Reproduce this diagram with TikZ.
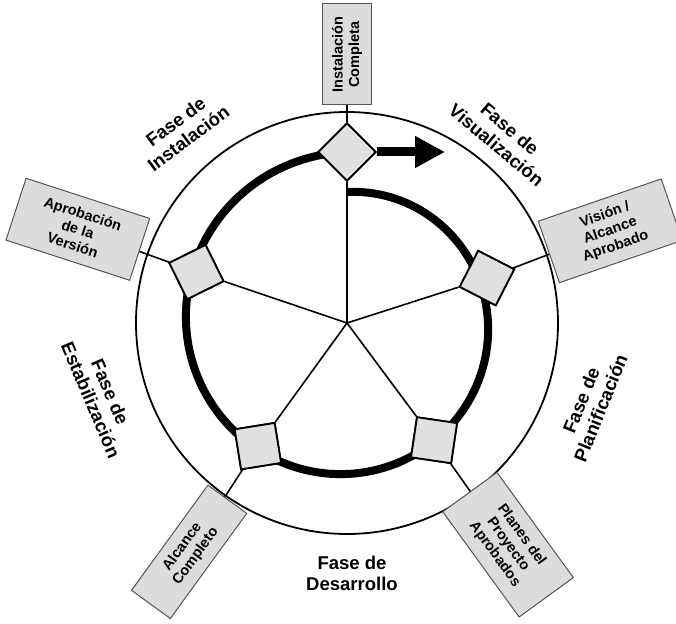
\documentclass[tikz,border=0pt]{standalone}
\usepackage{fontspec}
\setmainfont{Liberation Sans}
\usetikzlibrary{shapes.geometric,arrows.meta}
\definecolor{msfill}{HTML}{E0E0E0}
\definecolor{notefill}{HTML}{DCDCDC}
\definecolor{notedraw}{HTML}{555555}
\begin{document}
\begin{tikzpicture}[x=1pt,y=1pt,
  spoke/.style={line width=1.6pt},
  milestone/.style={shape=diamond, draw, line width=1.8pt, fill=msfill,
    minimum width=58pt, minimum height=58pt, inner sep=0pt, aspect=1},
  note/.style={draw=notedraw, line width=1pt, fill=notefill, align=center,
    minimum width=130pt, minimum height=65pt, inner sep=2pt,
    font=\bfseries\fontsize{14.5}{16.5}\selectfont},
  phase/.style={align=center, font=\bfseries\fontsize{18.5}{21}\selectfont}
]
\useasboundingbox (-347,-300) rectangle (329,323);

% hub and outer ring
\coordinate (c) at (0,0);
\draw[line width=1.8pt] (c) circle (211);

% milestones on the five spokes
\path (90:171)      node[milestone, rotate=0]      (d1) {}
      (17.8:147)    node[milestone, rotate=-72.2]  (d2) {}
      (-53.4:146)   node[milestone, rotate=-143.4] (d3) {}
      (-125.9:152)  node[milestone, rotate=144.1]  (d4) {}
      (161.3:159)   node[milestone, rotate=71.3]   (d5) {};

% deliverable boxes outside the ring
\path (90:268.5)    node[note, rotate=90, minimum width=101pt, minimum height=49pt] (b1) {Instalación\\Completa}
      (19.3:279)    node[note, rotate=19]  (b2) {Visión /\\Alcance\\Aprobado}
      (-54:274)     node[note, rotate=-54, minimum height=67pt] (b3) {Planes del\\Proyecto\\Aprobados}
      (-124.6:278)  node[note, rotate=54, minimum height=48pt]  (b4) {Alcance\\Completo}
      (160.8:285)   node[note, rotate=-18] (b5) {Aprobación\\de la\\Versión};

% spokes: hub to milestone, milestone to box
\foreach \i in {1,...,5}{
  \draw[spoke] (c) -- (d\i);
  \draw[spoke] (d\i) -- (b\i);
}

% process spiral running clockwise from the top
\draw[line width=8pt] plot[domain=0:352, samples=150] ({90-\x}:{131+\x/9});

% redraw milestones above the spiral
\path (90:171)      node[milestone, rotate=0]      {}
      (17.8:147)    node[milestone, rotate=-72.2]  {}
      (-53.4:146)   node[milestone, rotate=-143.4] {}
      (-125.9:152)  node[milestone, rotate=144.1]  {}
      (161.3:159)   node[milestone, rotate=71.3]   {};

% direction arrow
\coordinate (tip) at (98,171);
\draw[line width=9pt, -{Triangle[length=30pt,width=30pt]}] (d1.east) -- (tip);

% phase labels
\node[phase, rotate=37]  (p1) at (130.5:254) {Fase de\\Instalación};
\node[phase, rotate=-40] (p2) at (50:243)    {Fase de\\Visualización};
\node[phase, rotate=68]  (p3) at (-18.4:257) {Fase de\\Planificación};
\node[phase]             (p4) at (5,-250)    {Fase de\\Desarrollo};
\node[phase, rotate=-67] (p5) at (196.5:257) {Fase de\\Estabilización};
\end{tikzpicture}
\end{document}
